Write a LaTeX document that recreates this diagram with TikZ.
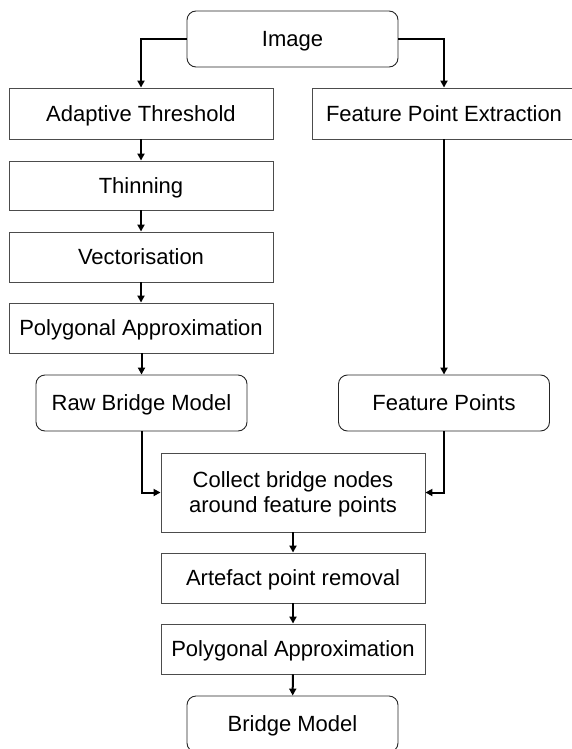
\documentclass[tikz,border=0pt]{standalone}
\usepackage{fontspec}
\setmainfont{Liberation Sans}
\usetikzlibrary{arrows.meta}
\begin{document}
\begin{tikzpicture}[x=1pt,y=-1pt,
  box/.style={draw=black!70, line width=0.9pt, rectangle, minimum width=264pt, minimum height=50pt, inner sep=0pt, align=center, text height=15.6pt, text depth=0pt, font=\fontsize{22}{25.7}\selectfont},
  rbox/.style={box, draw=black!85, rounded corners=9pt, minimum width=211pt, minimum height=56pt},
  conn/.style={line width=2pt, -{Triangle[length=7pt,width=7pt]}}]
\useasboundingbox (0,0) rectangle (572,749);
\node[rbox] (img) at (292.5,39) {Image};
\node[box, minimum height=51pt] (at) at (141,113.5) {Adaptive Threshold};
\node[box, minimum height=51pt] (fpe) at (444,113.5) {Feature Point Extraction};
\node[box, minimum height=49pt] (thin) at (141,185.5) {Thinning};
\node[box] (vec) at (141,257) {Vectorisation};
\node[box] (poly) at (141,328) {Polygonal Approximation};
\node[rbox] (raw) at (141.5,403) {Raw Bridge Model};
\node[rbox] (fp) at (444,403) {Feature Points};
\node[box, minimum height=79pt, text height=, text depth=0.7pt] (col) at (293,492.5) {Collect bridge nodes\\around feature points};
\node[box] (art) at (293,578) {Artefact point removal};
\node[box] (poly2) at (293,649) {Polygonal Approximation};
\node[rbox] (bm) at (292.5,724) {Bridge Model};
\draw[conn] (img.west) -| (at.north);
\draw[conn] (img.east) -| (fpe.north);
\draw[conn] (at) -- (thin);
\draw[conn] (thin) -- (vec);
\draw[conn] (vec) -- (poly);
\draw[conn] (poly.south -| raw.north) -- (raw.north);
\draw[conn] (fpe.south -| fp.north) -- (fp.north);
\draw[conn] (raw.south) |- (col.west);
\draw[conn] (fp.south) |- (col.east);
\draw[conn] (col) -- (art);
\draw[conn] (art) -- (poly2);
\draw[conn] (poly2) -- (bm);
\end{tikzpicture}
\end{document}
